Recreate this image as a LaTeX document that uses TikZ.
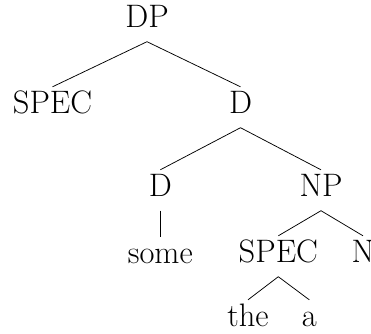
\documentclass[tikz,border=0pt]{standalone}
\begin{document}
\begin{tikzpicture}[x=1pt,y=-1pt,
  every node/.style={font=\fontsize{32.5}{39}\selectfont},
  cat/.style={anchor=base, inner xsep=0pt, inner ysep=6pt, text height=20pt, text depth=8.5pt},
  branch/.style={line width=0.75pt}]
  \clip (0,0) rectangle (371,333);
  % nodes, placed by baseline
  \node[cat] (dp)    at (147,27)  {DP};
  \node[cat] (spec1) at (52.5,113) {SPEC};
  \node[cat] (d1)    at (240.5,113) {D};
  \node[cat] (d2)    at (160.3,196) {D};
  \node[cat] (np)    at (321,196) {NP};
  \node[cat] (some)  at (160.3,263) {some};
  \node[cat] (spec2) at (278.3,262) {SPEC};
  \node[cat] (n)     at (363,262) {N};
  \node[cat] (the)   at (248,326) {the};
  \node[cat] (a)     at (309.3,326) {a};
  % branches
  \draw[branch] (dp.south) -- (spec1.north);
  \draw[branch] (dp.south) -- (d1.north);
  \draw[branch] (d1.south) -- (d2.north);
  \draw[branch] (d1.south) -- (np.north);
  \draw[branch] (d2.south) -- (some.north);
  \draw[branch] (np.south) -- (spec2.north);
  \draw[branch] (np.south) -- (n.north);
  \draw[branch] (spec2.south) -- (the.north);
  \draw[branch] (spec2.south) -- (a.north);
\end{tikzpicture}
\end{document}
